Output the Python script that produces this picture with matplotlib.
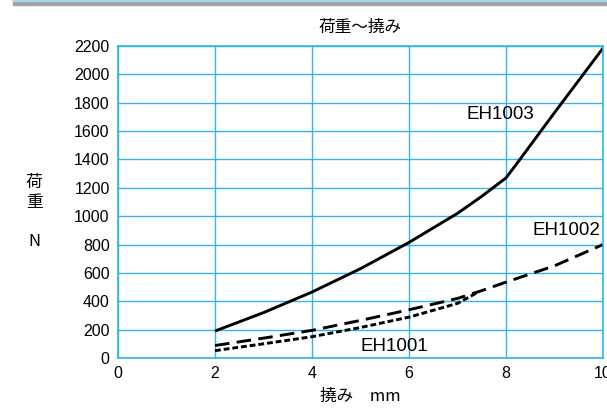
import matplotlib.pyplot as plt
from matplotlib.patches import Rectangle

plt.rcParams["font.family"] = ["Liberation Sans", "Noto Sans CJK JP", "DejaVu Sans"]

# EH1003 (solid)
x_1003 = [2, 3, 4, 5, 6, 7, 7.5, 8, 8.2, 9, 10]
y_1003 = [190, 320, 465, 630, 815, 1020, 1140, 1270, 1360, 1730, 2185]
# EH1002 (long dash)
x_1002 = [2, 3, 4, 5, 6, 7, 7.5, 8, 9, 10]
y_1002 = [88, 140, 195, 265, 340, 420, 475, 535, 650, 800]
# EH1001 (short dash)
x_1001 = [2, 3, 4, 5, 6, 7, 7.4]
y_1001 = [52, 100, 150, 215, 288, 385, 460]

GRID = "#33b5e8"
JP = ["Noto Sans CJK JP", "DejaVu Sans"]

fig = plt.figure(figsize=(6.07, 4.08), dpi=100)
fig.patches.append(Rectangle((13 / 607, 1 - 5 / 408), 1, 5 / 408,
                             transform=fig.transFigure, color="#a0a0a0", zorder=0))
fig.patches.append(Rectangle((13 / 607, 1 - 1.2 / 408), 1, 1.2 / 408,
                             transform=fig.transFigure, color="#a8d8f0", zorder=1))

ax = fig.add_axes([118 / 607, 50 / 408, 485 / 607, 312 / 408])

ax.plot(x_1003, y_1003, color="black", lw=2.1, solid_capstyle="butt")
ax.plot(x_1002, y_1002, color="black", lw=2.1, dashes=(5, 2.5))
ax.plot(x_1001, y_1001, color="black", lw=2.1, dashes=(2, 1))

ax.text(7.89, 1714, "EH1003", fontsize=13.5, ha="center", va="center")
ax.text(9.95, 898, "EH1002", fontsize=13.5, ha="right", va="center")
ax.text(5.7, 80, "EH1001", fontsize=13.5, ha="center", va="center")

ax.set_xlim(0, 10)
ax.set_ylim(0, 2200)
ax.set_xticks(range(0, 11, 2))
ax.set_yticks(range(0, 2201, 200))
ax.tick_params(length=0, labelsize=11.5, pad=6)
ax.grid(True, color=GRID, lw=1.0)
for s in ax.spines.values():
    s.set_color(GRID)
    s.set_linewidth(1.2)

ax.set_title("荷重～撓み", fontsize=12, family=JP, pad=10)
ax.set_xlabel("撓み　mm", fontsize=12, family=JP, labelpad=5)
for yy, t in [(182, "荷"), (203, "重"), (242, "N")]:
    fig.text(34 / 607, 1 - yy / 408, t, fontsize=12, ha="center", va="center", family=JP)

fig.savefig("out.png", dpi=100)
